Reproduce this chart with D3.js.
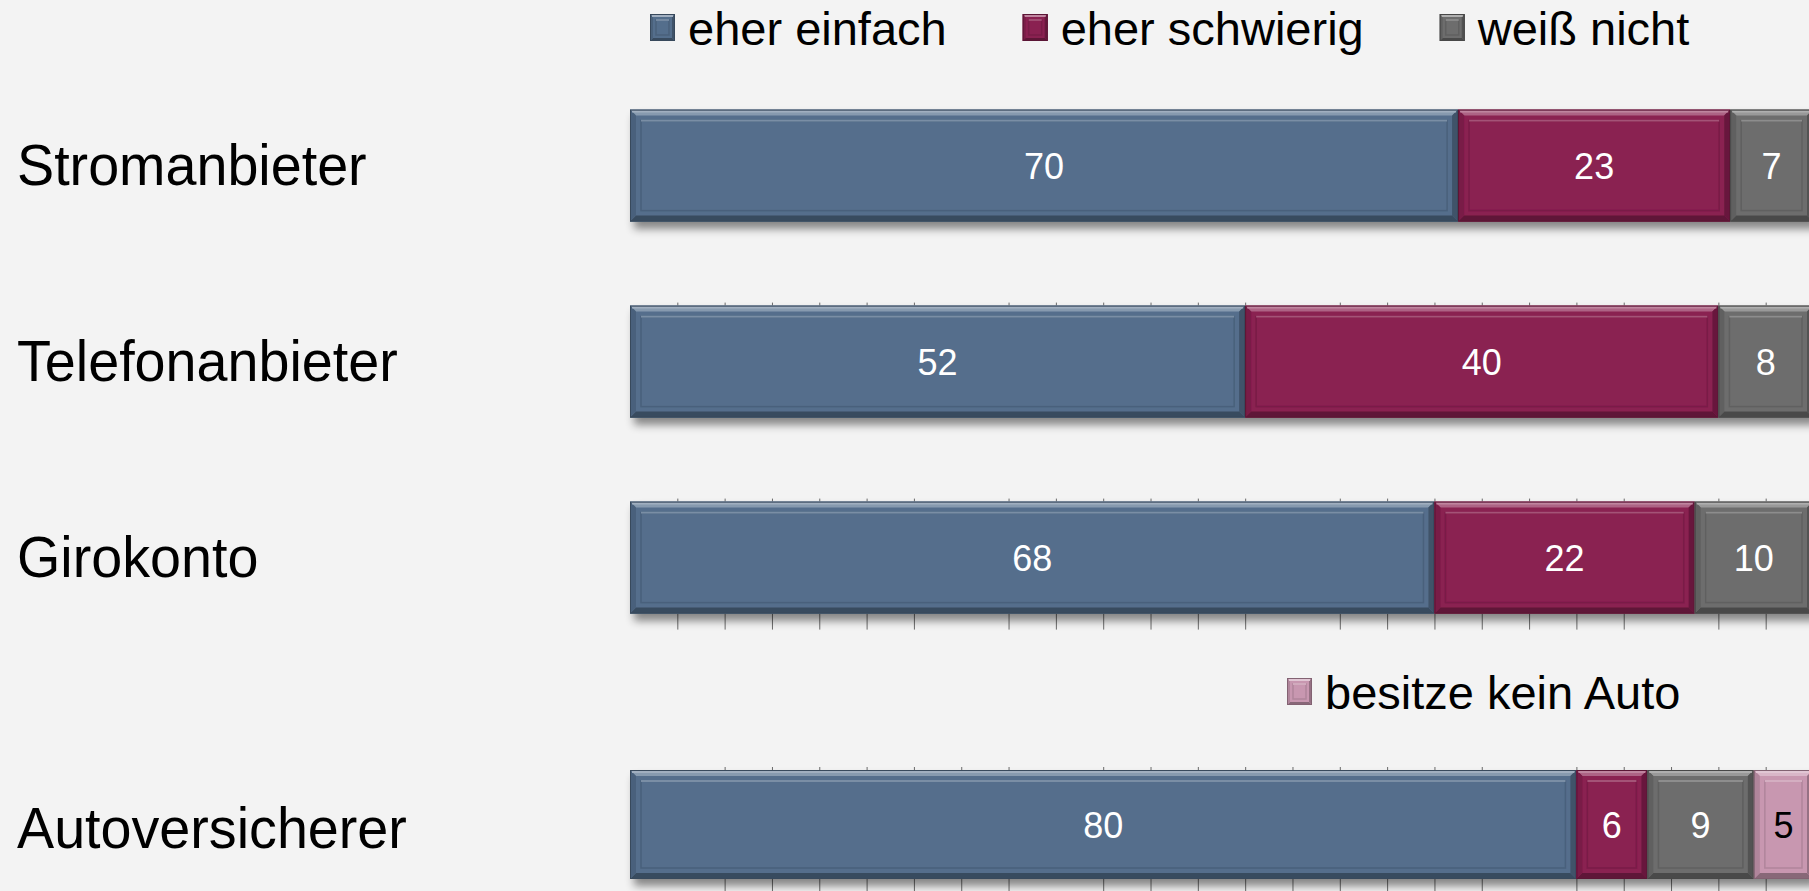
<!DOCTYPE html>
<html><head><meta charset="utf-8">
<script src="https://cdn.jsdelivr.net/npm/d3@7"></script>
<style>
html,body{margin:0;padding:0;background:#f3f3f3;overflow:hidden}
text{font-family:"Liberation Sans",Arial,Helvetica,sans-serif}
</style>
</head><body>
<svg id="chart" width="1809" height="891"></svg>
<script>
// ---------- data ----------
const categoriesTop = ["Stromanbieter", "Telefonanbieter", "Girokonto"];
const categoriesBottom = ["Autoversicherer"];
const categories = categoriesTop.concat(categoriesBottom);
const seriesNames = ["eher einfach", "eher schwierig", "weiß nicht", "besitze kein Auto"];
const eherEinfach   = [70, 52, 68, 80];
const eherSchwierig = [23, 40, 22, 6];
const weissNicht    = [7, 8, 10, 9];
const besitzeKeinAuto = [0, 0, 0, 5];
const seriesColors = ["#546e8c", "#8a2151", "#6d6d6d", "#c897b0"];
const labelColors  = ["#ffffff", "#ffffff", "#ffffff", "#000000"];
const legendTopSeries = ["eher einfach", "eher schwierig", "weiß nicht"];
const legendBottomSeries = ["besitze kein Auto"];
const tickValuesTop = [4, 8, 12, 16, 20, 24, 32, 36, 40, 44, 48, 52, 60, 64, 68, 72, 76, 80, 84, 92, 96];
const tickValuesBottom = [8, 12, 16, 20, 24, 28, 32, 40, 44, 48, 52, 56, 60, 64, 68, 72, 80, 84, 88, 92, 96];

// ---------- setup ----------
const svg = d3.select("#chart");
const W = 1809, H = 891;
svg.append("rect").attr("width", W).attr("height", H).attr("fill", "#f3f3f3");

const defs = svg.append("defs");
const f = defs.append("filter").attr("id", "shadow").attr("x", "-5%").attr("y", "-30%").attr("width", "115%").attr("height", "170%");
f.append("feDropShadow").attr("dx", 4).attr("dy", 7).attr("stdDeviation", 4)
  .attr("flood-color", "#000").attr("flood-opacity", 0.45);

const x = d3.scaleLinear().domain([0, 100]).range([630, 1813]);

const yTop = d3.scaleBand().domain(categoriesTop).range([67.6, 655.6])
  .paddingInner(0.4286).paddingOuter(0.2143);
const yBottom = d3.scaleBand().domain(categoriesBottom).range([770, 879]).padding(0);
const yOf = c => categoriesTop.includes(c) ? yTop : yBottom;

const rows = categories.map((c, i) => ({
  category: c,
  "eher einfach": eherEinfach[i],
  "eher schwierig": eherSchwierig[i],
  "weiß nicht": weissNicht[i],
  "besitze kein Auto": besitzeKeinAuto[i]
}));
const stacked = d3.stack().keys(seriesNames)(rows);
const color = d3.scaleOrdinal().domain(seriesNames).range(seriesColors);
const labelColor = d3.scaleOrdinal().domain(seriesNames).range(labelColors);

const mix = (c, t, k) => d3.interpolateRgb(c, t)(k);

// ---------- ticks (behind bars) ----------
function tickAxis(axis, ty) {
  const g = svg.append("g").attr("transform", `translate(0,${ty})`).call(axis);
  g.select(".domain").remove();
  g.selectAll(".tick line").attr("stroke", "#6a6a6a").attr("stroke-width", 1);
  g.selectAll(".tick text").remove();
  return g;
}
// short ticks on top of Telefonanbieter and Girokonto
["Telefonanbieter", "Girokonto"].forEach(c => {
  tickAxis(d3.axisTop(x).tickValues(tickValuesTop).tickSize(3).tickFormat(""), yTop(c));
});
// long ticks below Girokonto
tickAxis(d3.axisBottom(x).tickValues(tickValuesTop).tickSize(16).tickFormat(""), yTop("Girokonto") + yTop.bandwidth());
// Autoversicherer ticks
tickAxis(d3.axisTop(x).tickValues(tickValuesBottom).tickSize(3).tickFormat(""), yBottom("Autoversicherer"));
tickAxis(d3.axisBottom(x).tickValues(tickValuesBottom).tickSize(16).tickFormat(""), yBottom("Autoversicherer") + yBottom.bandwidth());

// ---------- bevel block ----------
function bevel(g, bx, by, w, h, c, b, inset) {
  g.append("rect").attr("x", bx).attr("y", by).attr("width", w).attr("height", h).attr("fill", c);
  const poly = (pts, fill) => g.append("polygon").attr("points", pts.map(p => p.join(",")).join(" ")).attr("fill", fill);
  poly([[bx, by], [bx + w, by], [bx + w - b, by + b], [bx + b, by + b]], mix(c, "#ffffff", 0.3));
  poly([[bx, by + h], [bx + w, by + h], [bx + w - b, by + h - b], [bx + b, by + h - b]], mix(c, "#000000", 0.32));
  poly([[bx, by], [bx + b, by + b], [bx + b, by + h - b], [bx, by + h]], mix(c, "#000000", 0.12));
  poly([[bx + w, by], [bx + w - b, by + b], [bx + w - b, by + h - b], [bx + w, by + h]], mix(c, "#000000", 0.25));
  // light highlight line at very top
  g.append("line").attr("x1", bx + 2).attr("x2", bx + w - 2).attr("y1", by + 2).attr("y2", by + 2)
    .attr("stroke", mix(c, "#ffffff", 0.45)).attr("stroke-width", 2);
  // inner frame
  if (w > 2 * inset + 4) {
    g.append("rect").attr("x", bx + inset).attr("y", by + inset).attr("width", w - 2 * inset).attr("height", h - 2 * inset)
      .attr("fill", "none").attr("stroke", mix(c, "#000000", 0.12)).attr("stroke-width", 1.5);
    g.append("line").attr("x1", bx + inset).attr("x2", bx + w - inset).attr("y1", by + inset).attr("y2", by + inset)
      .attr("stroke", mix(c, "#ffffff", 0.22)).attr("stroke-width", 1.8);
  }
  g.append("rect").attr("x", bx + 0.5).attr("y", by + 0.5).attr("width", w - 1).attr("height", h - 1)
    .attr("fill", "none").attr("stroke", mix(c, "#000000", 0.35)).attr("stroke-width", 1);
}

// ---------- bars ----------
categories.forEach((cat, i) => {
  const yS = yOf(cat);
  const g = svg.append("g").attr("filter", "url(#shadow)");
  stacked.forEach(s => {
    const d = s[i];
    if (d[1] - d[0] <= 0) return;
    bevel(g, x(d[0]), yS(cat), x(d[1]) - x(d[0]), yS.bandwidth(), color(s.key), 6, 11);
  });
  stacked.forEach(s => {
    const d = s[i];
    if (d[1] - d[0] <= 0) return;
    svg.append("text")
      .attr("x", (x(d[0]) + x(d[1])) / 2)
      .attr("y", yS(cat) + yS.bandwidth() / 2 + 13)
      .attr("text-anchor", "middle")
      .attr("font-size", 36)
      .attr("fill", labelColor(s.key))
      .text(d[1] - d[0]);
  });
});

// ---------- category labels ----------
const labelShift = { top: 19.5, bottom: 23.5 };
categories.forEach(cat => {
  const yS = yOf(cat);
  const cy = yS(cat) + yS.bandwidth() / 2 + (yS === yTop ? labelShift.top : labelShift.bottom);
  svg.append("text")
    .attr("transform", `translate(17,${cy}) scale(0.96,1)`)
    .attr("font-size", 58)
    .attr("fill", "#000")
    .text(cat);
});

// ---------- legends ----------
function legend(series, startX, baseline) {
  let cx = startX;
  series.forEach(name => {
    const g = svg.append("g");
    bevel(g, cx, baseline - 31, 25, 27, color(name), 3, 6);
    const t = svg.append("text").attr("x", cx + 38).attr("y", baseline)
      .attr("font-size", 47).attr("fill", "#000").text(name);
    cx = cx + 38 + t.node().getComputedTextLength() + 76;
  });
}
legend(legendTopSeries, 650, 45);
legend(legendBottomSeries, 1287, 709);
</script>
</body></html>
